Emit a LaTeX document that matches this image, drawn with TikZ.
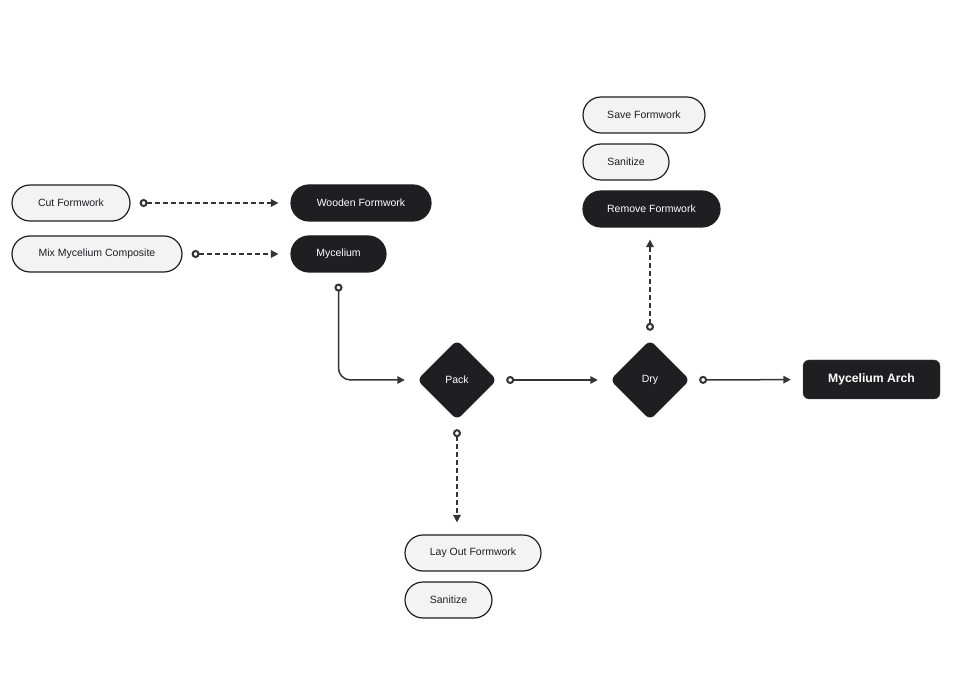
\documentclass[tikz,border=0pt]{standalone}
\usepackage{fontspec}
\setmainfont{Liberation Sans}
\usetikzlibrary{shapes.geometric,arrows.meta}
\definecolor{ink}{HTML}{1F1F22}
\definecolor{pale}{HTML}{F3F3F3}
\definecolor{wire}{HTML}{333336}

\begin{document}
\begin{tikzpicture}
    [x=1pt, y=-1pt,
    light/.style={draw=ink, fill=pale, text=ink, line width=1.2pt, rounded corners=18pt,
        minimum height=36pt, inner sep=0pt, font=\fontsize{10.5}{12}\selectfont},
    dark/.style={light, fill=ink, text=white},
    choice/.style={diamond, aspect=1, fill=ink, text=white, minimum size=80pt, inner sep=0pt,
        rounded corners=6pt, font=\fontsize{10.5}{12}\selectfont},
    goal/.style={fill=ink, draw=ink!80, text=white, rounded corners=6pt, minimum width=137pt,
        minimum height=39pt, font=\bfseries\fontsize{12.2}{14}\selectfont},
    flow/.style={wire, line width=1.5pt,
        {Circle[open, fill=white, line width=2pt, length=8pt, width=8pt]}-{Triangle[length=7.5pt, width=7.5pt]},
        shorten <=9pt, shorten >=12pt},
    opt/.style={flow, dash pattern=on 5pt off 3pt}]
        \useasboundingbox (0,0) rectangle (953,684);

        %% inputs
        \node[light, minimum width=118pt] (cut) at (71,203) {Cut Formwork};
        \node[light, minimum width=170pt] (mix) at (97,254) {Mix Mycelium Composite};
        \node[dark, minimum width=140pt] (wood) at (361,203) {Wooden Formwork};
        \node[dark, minimum width=95pt] (myc) at (338.5,254) {Mycelium};

        %% main line
        \node[choice] (pack) at (457,380) {Pack};
        \node[choice] (dry) at (650,380) {Dry};
        \node[goal] (arch) at (871.5,379.5) {Mycelium Arch};

        %% side steps
        \node[light, minimum width=122pt] (save) at (644,115) {Save Formwork};
        \node[light, minimum width=86pt] (sanA) at (626,162) {Sanitize};
        \node[dark, minimum width=137pt] (remove) at (651.5,209) {Remove Formwork};
        \node[light, minimum width=136pt] (layout) at (473,553) {Lay Out Formwork};
        \node[light, minimum width=87pt] (sanB) at (448.5,600) {Sanitize};

        \draw[opt] (cut) -- (wood);
        \draw[opt] (mix) -- (myc);
        \draw[flow, rounded corners=12pt, shorten <=11pt] (myc.south) |- (pack.west);
        \draw[flow] (pack) -- (dry);
        \draw[flow] (dry) -- (arch);
        \draw[opt] (pack.south) -- (pack.south |- layout.north);
        \draw[opt] (dry.north) -- (dry.north |- remove.south);
    \end{tikzpicture}
\end{document}
